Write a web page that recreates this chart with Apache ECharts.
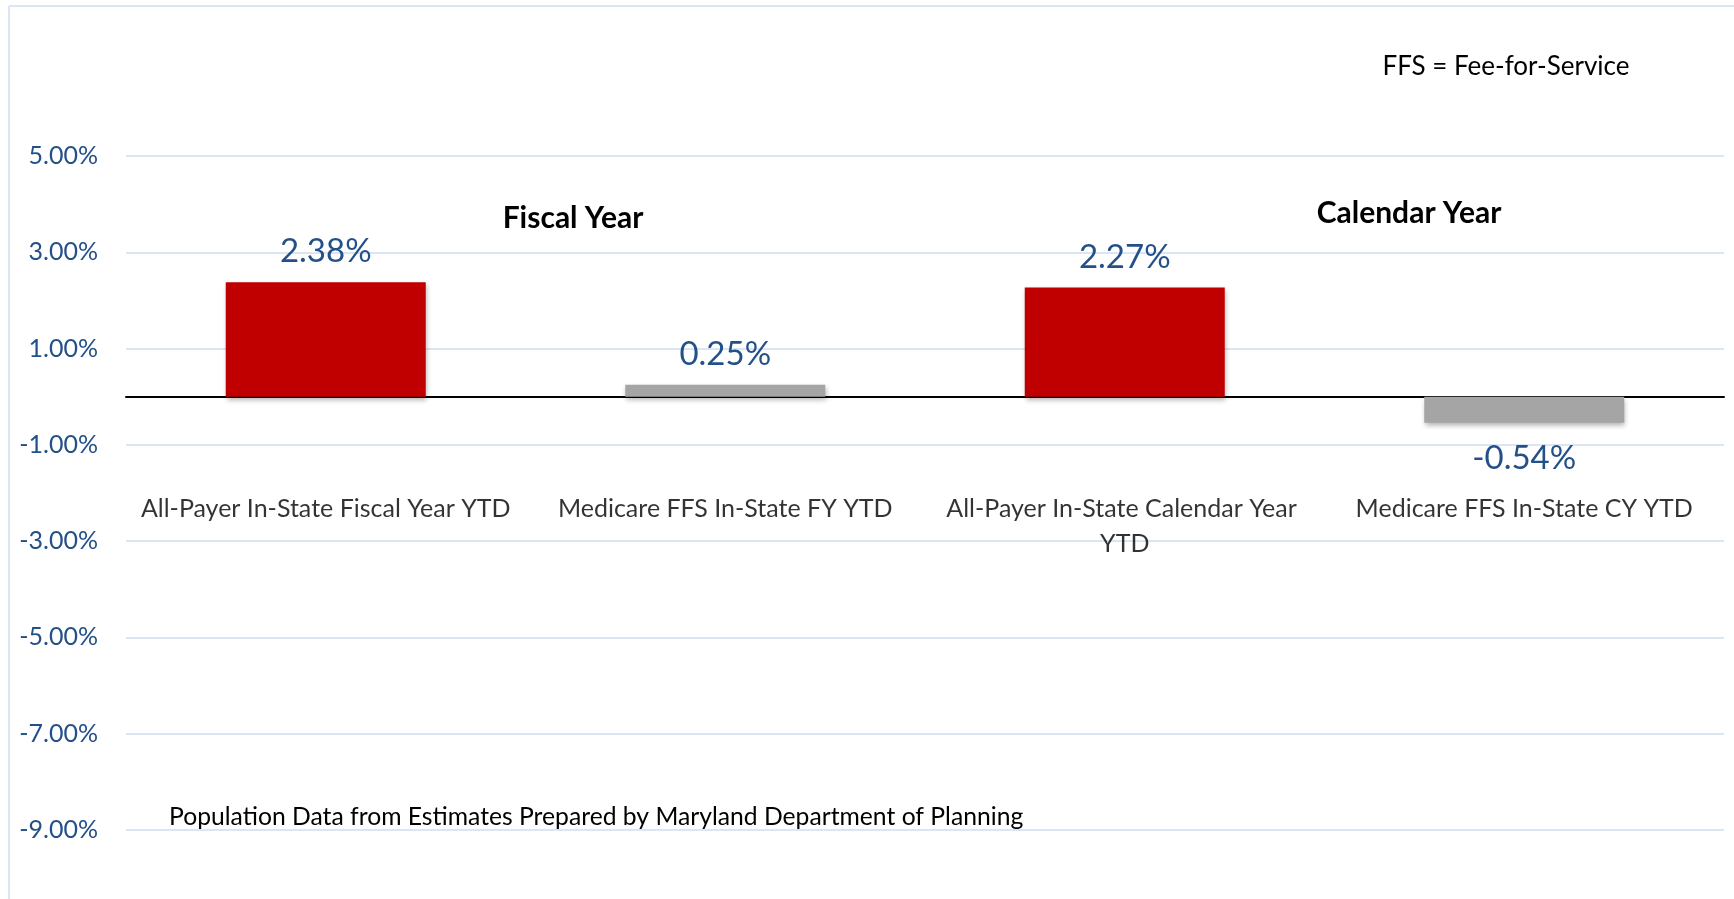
<!DOCTYPE html>
<html>
<head>
<meta charset="utf-8">
<script src="https://cdn.jsdelivr.net/npm/echarts@6/dist/echarts.min.js"></script>
<style>
  html, body { margin: 0; padding: 0; background: #fff; }
  #chart { width: 1734px; height: 899px; }
</style>
</head>
<body>
<div id="chart"></div>
<script>
// categories and values (percent)
const categories = [
  'All-Payer In-State Fiscal Year YTD',
  'Medicare FFS In-State FY YTD',
  'All-Payer In-State Calendar Year YTD',
  'Medicare FFS In-State CY YTD'
]
const growthValues = [2.38, 0.25, 2.27, -0.54]
const barColors = ['#C00000', '#A5A5A5', '#C00000', '#A5A5A5']

const yMin = -9
const yMax = 5
const yStep = 2

const blue = '#24508A'
const font = 'Lato'

const chart = echarts.init(document.getElementById('chart'))

const option = {
  animation: false,
  backgroundColor: '#fff',
  grid: {
    left: 126,
    right: 10,
    top: 156,
    bottom: 69,
    containLabel: false,
    outerBoundsMode: 'none'
  },
  xAxis: {
    type: 'category',
    data: categories,
    axisLine: { onZero: true, lineStyle: { color: '#000', width: 2 } },
    axisTick: { show: false },
    axisLabel: { show: false }
  },
  yAxis: {
    type: 'value',
    min: yMin,
    max: yMax,
    interval: yStep,
    axisLine: { show: false },
    axisTick: { show: false },
    splitLine: { lineStyle: { color: '#DCE5F3', width: 2 } },
    axisLabel: {
      margin: 28,
      color: blue,
      fontFamily: font,
      fontSize: 25,
      formatter: v => v.toFixed(2) + '%'
    }
  },
  series: [
    {
      type: 'bar',
      barWidth: 200,
      data: growthValues.map((v, i) => ({
        value: v,
        itemStyle: { color: barColors[i] },
        label: v < 0 ? { position: 'bottom', distance: 19 } : { position: 'top' }
      })),
      itemStyle: {
        shadowColor: 'rgba(0,0,0,0.3)',
        shadowBlur: 5,
        shadowOffsetY: 3,
        shadowOffsetX: 1
      },
      label: {
        show: true,
        distance: 14,
        color: blue,
        fontFamily: font,
        fontSize: 33,
        formatter: p => p.value.toFixed(2) + '%'
      }
    },
    {
      // category names sit just below the zero line, as in the original
      type: 'scatter',
      symbolSize: 1,
      silent: true,
      itemStyle: { color: 'rgba(0,0,0,0)' },
      data: categories.map(c => [c, 0]),
      label: {
        show: true,
        position: 'bottom',
        distance: 94,
        color: '#000',
        fontFamily: font,
        fontSize: 25,
        lineHeight: 35,
        width: 385,
        overflow: 'break',
        align: 'center',
        formatter: p => p.name || p.value[0]
      }
    }
  ],
  graphic: [
    // chart border (top + left)
    { type: 'line', shape: { x1: 9, y1: 6, x2: 1734, y2: 6 }, style: { stroke: '#DCE5F3', lineWidth: 2 } },
    { type: 'line', shape: { x1: 9, y1: 6, x2: 9, y2: 899 }, style: { stroke: '#DCE5F3', lineWidth: 2 } },
    {
      type: 'text',
      style: { text: 'FFS = Fee-for-Service', x: 1506, y: 67, align: 'center', verticalAlign: 'middle', font: '26px Lato', fill: '#000' }
    },
    {
      type: 'text',
      style: { text: 'Fiscal Year', x: 573, y: 218, align: 'center', verticalAlign: 'middle', font: 'bold 30px Lato', fill: '#000' }
    },
    {
      type: 'text',
      style: { text: 'Calendar Year', x: 1409, y: 213, align: 'center', verticalAlign: 'middle', font: 'bold 30px Lato', fill: '#000' }
    },
    {
      type: 'text',
      style: { text: 'Population Data from Estimates Prepared by Maryland Department of Planning', x: 169, y: 817, align: 'left', verticalAlign: 'middle', font: '24.7px Lato', fill: '#000' }
    }
  ]
}

chart.setOption(option)
</script>
</body>
</html>
